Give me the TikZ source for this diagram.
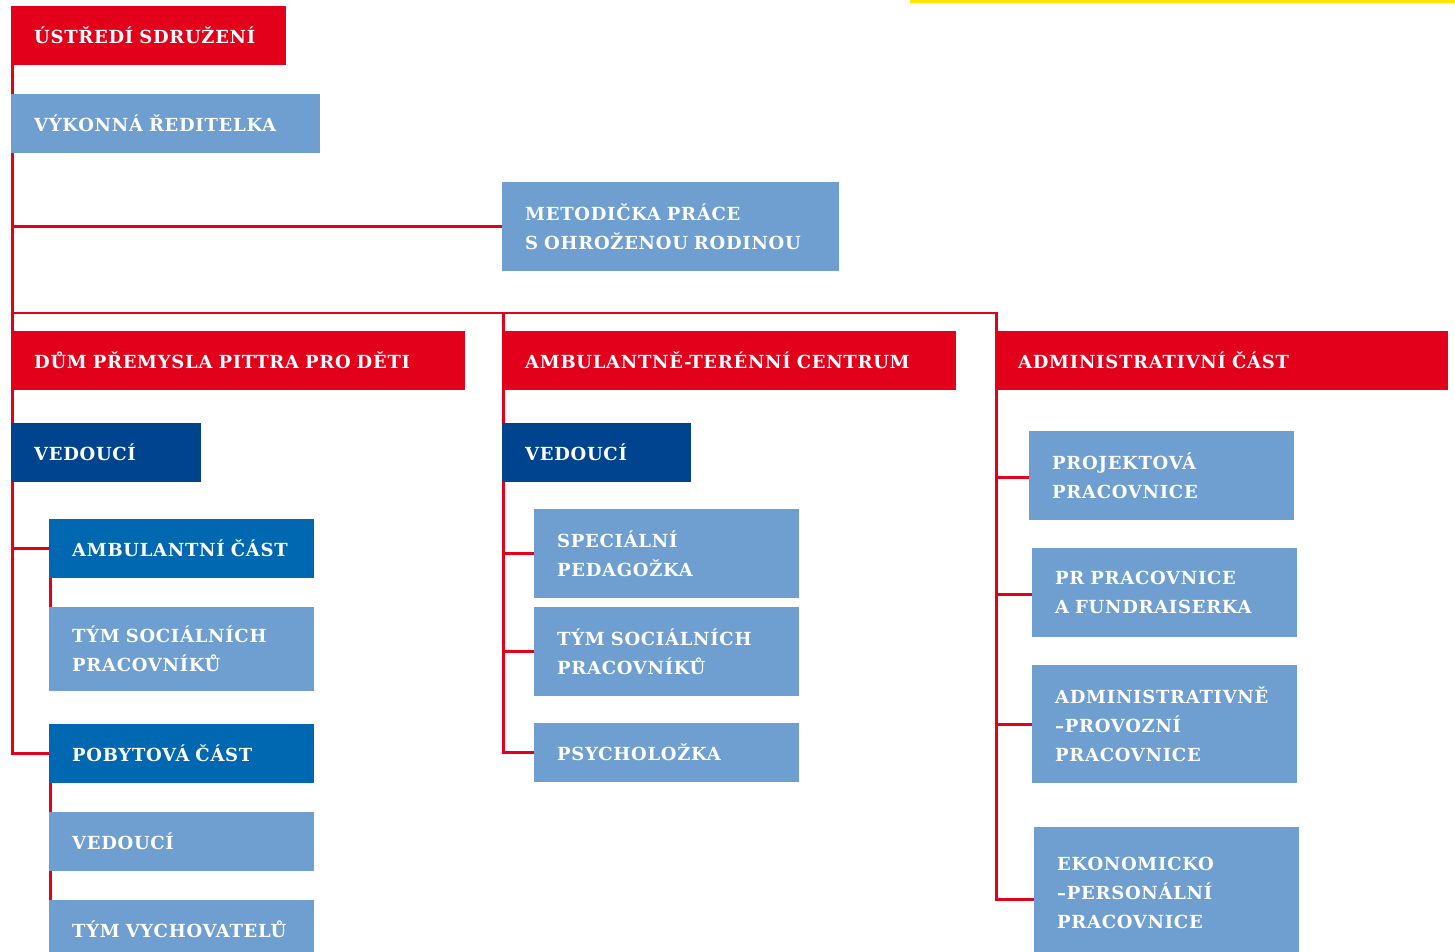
\documentclass[tikz,border=0pt]{standalone}
\usepackage{fontspec}
\setmainfont[LetterSpace=4]{DejaVu Serif}
\usetikzlibrary{backgrounds}
\definecolor{cervena}{HTML}{E2001A}
\definecolor{svetla}{HTML}{6F9FD0}
\definecolor{stredni}{HTML}{0068B1}
\definecolor{tmava}{HTML}{00448F}
\definecolor{zluta}{HTML}{FFE500}
\begin{document}
\begin{tikzpicture}[x=1pt, y=-1pt,
      blok/.style n args={3}{anchor=north west, fill=#1, text=white,
        inner xsep=23pt, inner ysep=0pt, text width=#2, minimum height=#3,
        align=left, font=\bfseries\fontsize{18}{29}\selectfont},
      cara/.style={line width=2.6pt, draw=cervena}]

      \useasboundingbox (0,0) rectangle (1455,951);
      \clip (0,0) rectangle (1455,951);

      % Zluta linka nahore
      \fill [zluta] (910,0) rectangle (1455,3);

      % Vedeni
      \node [blok={cervena}{229pt}{59pt}] (ustredi) at (11,6) {ÚSTŘEDÍ SDRUŽENÍ};
      \node [blok={svetla}{263pt}{59pt}] (reditelka) at (11,94) {VÝKONNÁ ŘEDITELKA};
      \node [blok={svetla}{291pt}{89pt}] (metodika) at (502,182)
        {METODIČKA PRÁCE\\S OHROŽENOU RODINOU};

      % Tri casti
      \node [blok={cervena}{408pt}{59pt}] (dum) at (11,331) {DŮM PŘEMYSLA PITTRA PRO DĚTI};
      \node [blok={cervena}{408pt}{59pt}] (centrum) at (502,331) {AMBULANTNĚ-TERÉNNÍ CENTRUM};
      \node [blok={cervena}{407pt}{59pt}] (admin) at (995,331) {ADMINISTRATIVNÍ ČÁST};

      % Dum Premysla Pittra
      \node [blok={tmava}{144pt}{59pt}] (vedouciA) at (11,423) {VEDOUCÍ};
      \node [blok={stredni}{219pt}{59pt}] (ambcast) at (49,519) {AMBULANTNÍ ČÁST};
      \node [blok={svetla}{219pt}{84pt}] (tymA) at (49,607) {TÝM SOCIÁLNÍCH\\PRACOVNÍKŮ};
      \node [blok={stredni}{219pt}{59pt}] (pobyt) at (49,724) {POBYTOVÁ ČÁST};
      \node [blok={svetla}{219pt}{59pt}] (vedouciC) at (49,812) {VEDOUCÍ};
      \node [blok={svetla}{219pt}{59pt}] (vychov) at (49,900) {TÝM VYCHOVATELŮ};

      % Ambulantne-terenni centrum
      \node [blok={tmava}{143pt}{59pt}] (vedouciB) at (502,423) {VEDOUCÍ};
      \node [blok={svetla}{219pt}{89pt}] (pedag) at (534,509) {SPECIÁLNÍ\\PEDAGOŽKA};
      \node [blok={svetla}{219pt}{89pt}] (tymB) at (534,607) {TÝM SOCIÁLNÍCH\\PRACOVNÍKŮ};
      \node [blok={svetla}{219pt}{59pt}] (psych) at (534,723) {PSYCHOLOŽKA};

      % Administrativni cast
      \node [blok={svetla}{219pt}{89pt}] (projekt) at (1029,431) {PROJEKTOVÁ\\PRACOVNICE};
      \node [blok={svetla}{219pt}{89pt}] (fundr) at (1032,548) {PR PRACOVNICE\\A FUNDRAISERKA};
      \node [blok={svetla}{219pt}{118pt}] (provoz) at (1032,665)
        {ADMINISTRATIVNĚ\\–PROVOZNÍ\\PRACOVNICE};
      \node [blok={svetla}{219pt}{132pt}] (ekonom) at (1034,827)
        {EKONOMICKO\\–PERSONÁLNÍ\\PRACOVNICE};

      % Spojnice
      \begin{scope}[on background layer]
        \coordinate (kmen) at ([xshift=1.5pt]ustredi.south west);
        \coordinate (rozvod) at (12,313);
        \draw [cara] (kmen) -- ([xshift=1.5pt]dum.north west);
        \draw [cara] (metodika.west) -- (metodika.west -| kmen);
        \draw [cara] (rozvod) -| ([xshift=1.5pt]admin.north west);
        \draw [cara] ([xshift=1.5pt]centrum.north west) -- ([xshift=1.5pt]centrum.north west |- rozvod);

        \draw [cara] ([xshift=1.5pt]dum.south west) |- (pobyt.west);
        \draw [cara] (ambcast.west) -- (ambcast.west -| kmen);
        \draw [cara] ([xshift=1.5pt]ambcast.south west) -- ([xshift=1.5pt]tymA.north west);
        \draw [cara] ([xshift=1.5pt]pobyt.south west) -- ([xshift=1.5pt]vedouciC.north west);
        \draw [cara] ([xshift=1.5pt]vedouciC.south west) -- ([xshift=1.5pt]vychov.north west);

        \draw [cara] ([xshift=1.5pt]centrum.south west) |- (psych.west);
        \draw [cara] (pedag.west) -- ++(-32,0);
        \draw [cara] (tymB.west) -- ++(-32,0);

        \draw [cara] ([xshift=1.5pt]admin.south west) |- ([yshift=-6pt]ekonom.west);
        \draw [cara] ([yshift=-2pt]projekt.west) -- ++(-34,0);
        \draw [cara] ([yshift=-2pt]fundr.west) -- ++(-37,0);
        \draw [cara] (provoz.west) -- ++(-37,0);
      \end{scope}
    \end{tikzpicture}
\end{document}
